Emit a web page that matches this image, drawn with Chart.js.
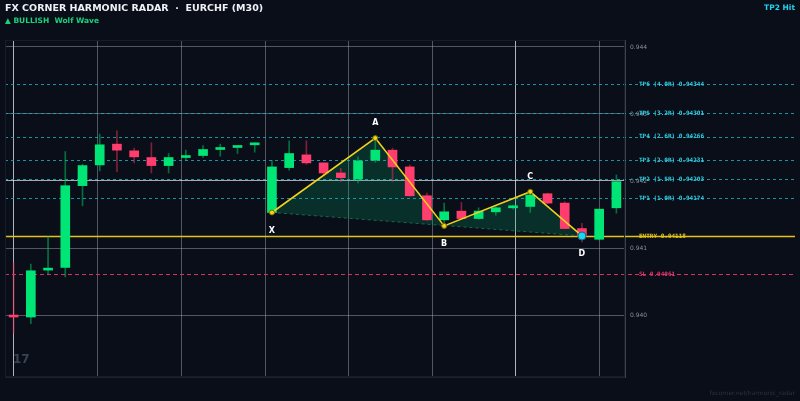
<!DOCTYPE html>
<html><head><meta charset="utf-8">
<script src="https://cdn.jsdelivr.net/npm/chart.js@4.4.1/dist/chart.umd.min.js"></script>
<style>html,body{margin:0;padding:0;background:#0a0e19;overflow:hidden}</style>
</head><body>
<canvas id="c" width="800" height="401"></canvas>
<script>
// ---- data (EURCHF M30 candles, index 0..35) ----
const opens  = [0.93999,0.93997,0.94067,0.94071,0.94193,0.94224,0.94255,0.94245,0.94235,0.94223,0.94235,0.94238,0.94247,0.94250,0.94254,0.94153,0.94220,0.94239,0.94227,0.94212,0.94203,0.94231,0.94246,0.94221,0.94178,0.94142,0.94155,0.94144,0.94154,0.94160,0.94162,0.94181,0.94167,0.94129,0.94113,0.94160];
const highs  = [0.94078,0.94076,0.94117,0.94244,0.94225,0.94270,0.94275,0.94249,0.94257,0.94241,0.94246,0.94253,0.94255,0.94253,0.94257,0.94231,0.94260,0.94260,0.94227,0.94219,0.94236,0.94264,0.94249,0.94224,0.94182,0.94167,0.94168,0.94160,0.94162,0.94164,0.94184,0.94182,0.94169,0.94137,0.94158,0.94209];
const lows   = [0.93973,0.93987,0.94061,0.94057,0.94163,0.94215,0.94214,0.94227,0.94212,0.94212,0.94231,0.94235,0.94237,0.94241,0.94243,0.94152,0.94216,0.94225,0.94209,0.94199,0.94197,0.94228,0.94199,0.94177,0.94141,0.94133,0.94143,0.94143,0.94149,0.94158,0.94153,0.94166,0.94129,0.94109,0.94112,0.94152];
const closes = [0.93997,0.94066,0.94069,0.94193,0.94223,0.94254,0.94246,0.94236,0.94223,0.94235,0.94238,0.94247,0.94249,0.94252,0.94255,0.94221,0.94241,0.94227,0.94212,0.94205,0.94230,0.94246,0.94221,0.94178,0.94142,0.94154,0.94144,0.94155,0.94160,0.94162,0.94179,0.94167,0.94129,0.94119,0.94158,0.94199];

// Wolf Wave pivots
const pivotLabels = ['X','A','B','C','D'];
const pivotIndex  = [15,21,25,30,33];
const pivotPrice  = [0.94153,0.94264,0.94133,0.94184,0.94118];

// trade levels
const levelNames  = ['TP6 (4.0R)','TP5 (3.2R)','TP4 (2.6R)','TP3 (2.0R)','TP2 (1.5R)','TP1 (1.0R)','ENTRY','SL'];
const levelValues = [0.94344,0.94301,0.94266,0.94231,0.94203,0.94174,0.94118,0.94061];

// axis ticks
const yTickValues = [0.940,0.941,0.942,0.943,0.944];
const xGridTicks  = [0,4.86,9.72,14.6,19.44,24.3,29.16,34.02];

const GREEN='#00e676', RED='#ff3d6e';
const up = opens.map((o,i)=>closes[i]>=o);
const idx = opens.map((_,i)=>i);

const levelPlugin = {
  id:'levels',
  beforeDatasetsDraw(chart){
    const {ctx,chartArea:a,scales:{x,y}} = chart;
    // pattern fill
    ctx.save();
    ctx.beginPath();
    pivotIndex.forEach((p,k)=>{
      const px=x.getPixelForValue(p), py=y.getPixelForValue(pivotPrice[k]);
      k?ctx.lineTo(px,py):ctx.moveTo(px,py);
    });
    ctx.closePath();
    ctx.fillStyle='rgba(0,180,110,0.2)';
    ctx.fill();
    ctx.restore();
    // levels
    ctx.save();
    levelValues.forEach((v,k)=>{
      const py=Math.round(y.getPixelForValue(v))+0.5;
      const name=levelNames[k];
      ctx.beginPath();
      if(name==='ENTRY'){ctx.setLineDash([]);ctx.strokeStyle='#e3c21a';ctx.lineWidth=1.5;}
      else if(name==='SL'){ctx.setLineDash([4,3]);ctx.strokeStyle='#d8305e';ctx.lineWidth=1;}
      else {ctx.setLineDash([3,3]);ctx.strokeStyle='rgba(30,170,190,0.85)';ctx.lineWidth=1;}
      ctx.moveTo(a.left,py);ctx.lineTo(795,py);ctx.stroke();
    });
    ctx.restore();
  },
  afterDraw(chart){
    const {ctx,chartArea:a,scales:{x,y}} = chart;
    ctx.save();
    // border box
    ctx.strokeStyle='#161c2a';ctx.lineWidth=1;
    ctx.strokeRect(a.left+0.5,a.top+0.5,a.right-a.left-1,a.bottom-a.top-1);
    // level labels
    ctx.textBaseline='middle';ctx.textAlign='left';
    ctx.font='bold 6px "DejaVu Sans Mono"';
    levelValues.forEach((v,k)=>{
      const py=y.getPixelForValue(v);
      const name=levelNames[k];
      ctx.fillStyle = name==='ENTRY'?'#e3c21a':(name==='SL'?'#e0356a':'#2fd0e6');
      ctx.fillText(name+' '+v.toFixed(5),639,py);
    });
    // pivot letters
    ctx.font='bold 8px "DejaVu Sans"';ctx.fillStyle='#ffffff';ctx.textAlign='center';
    pivotIndex.forEach((p,k)=>{
      const px=x.getPixelForValue(p), py=y.getPixelForValue(pivotPrice[k]);
      const isHigh = k%2===1;
      ctx.fillText(pivotLabels[k],px,isHigh?py-15:py+18);
    });
    // titles
    ctx.textAlign='left';
    ctx.font='bold 9.5px "DejaVu Sans"';ctx.fillStyle='#eef1f6';
    ctx.fillText('FX CORNER HARMONIC RADAR  ·  EURCHF (M30)',5,8.5);
    ctx.font='bold 7.5px "DejaVu Sans"';ctx.fillStyle='#17d47c';
    ctx.fillText('▲ BULLISH  Wolf Wave',5,21);
    ctx.textAlign='right';ctx.fillStyle='#22d3ee';ctx.font='bold 7.5px "DejaVu Sans"';
    ctx.fillText('TP2 Hit',795,8);
    ctx.fillStyle='#2a3242';ctx.font='6px "DejaVu Sans"';
    ctx.fillText('fxcorner.net/harmonic_radar',795,393);
    ctx.textAlign='left';ctx.fillStyle='#3a4354';ctx.font='bold 12px "DejaVu Sans"';
    ctx.fillText('17',13,360);
    ctx.restore();
  }
};

new Chart(document.getElementById('c'),{
  data:{
    datasets:[
      {type:'bar',label:'wick',order:4,grouped:false,barThickness:1,
       data:idx.map(i=>({x:i,y:[lows[i],highs[i]]})),
       backgroundColor:up.map(u=>u?'rgba(0,190,95,0.55)':'rgba(220,50,85,0.55)'),borderWidth:0},
      {type:'bar',label:'body',order:3,grouped:false,barThickness:9,minBarLength:2,
       data:idx.map(i=>({x:i,y:[opens[i],closes[i]]})),
       backgroundColor:up.map(u=>u?GREEN:RED),borderWidth:0},
      {type:'line',label:'XD',order:2,
       data:[{x:pivotIndex[0],y:pivotPrice[0]},{x:pivotIndex[4],y:pivotPrice[4]}],
       borderColor:'rgba(40,160,100,0.55)',borderWidth:1,borderDash:[3,3],pointRadius:0},
      {type:'line',label:'pattern',order:1,
       data:pivotIndex.map((p,k)=>({x:p,y:pivotPrice[k]})),
       borderColor:'#f2d21b',borderWidth:1.6,tension:0,
       pointRadius:pivotIndex.map((_,k)=>k===4?4:2.5),
       pointBackgroundColor:pivotIndex.map((_,k)=>k===4?'#22d3ee':'#f2d21b'),
       pointBorderColor:pivotIndex.map((_,k)=>k===4?'#0f6b7a':'#7a6a00'),
       pointBorderWidth:1}
    ]
  },
  options:{
    responsive:false,animation:false,
    layout:{padding:{left:5,top:40,right:0,bottom:0}},
    plugins:{legend:{display:false},tooltip:{enabled:false}},
    scales:{
      x:{type:'linear',min:-0.5,max:35.5,offset:false,
        afterBuildTicks(s){s.ticks=xGridTicks.map(v=>({value:v}));},
        afterFit(s){s.height=24;},
        ticks:{display:false},
        grid:{offset:false,drawTicks:false,color:(c)=>(c.index===0||c.index===6)?'rgba(230,235,245,0.75)':'rgba(170,175,190,0.45)'},
        border:{display:true,color:'#1b2130'}},
      y:{type:'linear',position:'right',min:0.939075,max:0.944104,
        afterBuildTicks(s){s.ticks=yTickValues.map(v=>({value:v}));},
        afterFit(s){s.width=175;},
        ticks:{padding:5,color:'#8a909c',font:{size:6,family:'"DejaVu Sans"'},callback:v=>v.toFixed(3)},
        grid:{drawTicks:false,color:(c)=>c.index===2?'rgba(230,235,245,0.7)':'rgba(170,175,190,0.45)'},
        border:{display:true,color:'#3a404c'}}
    }
  },
  plugins:[levelPlugin]
});
</script>
</body></html>
